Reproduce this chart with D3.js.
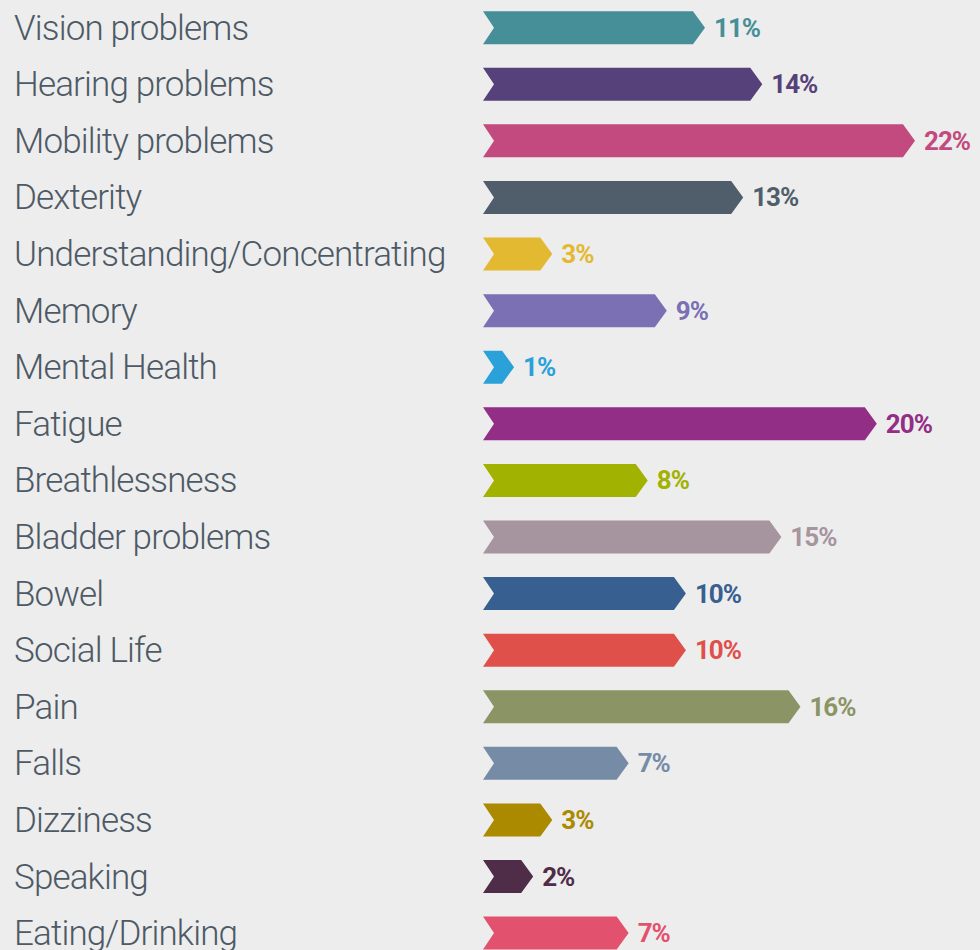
<!DOCTYPE html>
<html>
<head>
<title>Symptoms</title>
<style>
  body { margin: 0; background: #ededed; }
  .cat { font-family: Roboto, sans-serif; font-weight: 300; font-size: 35px; fill: #4d5a66; letter-spacing: -0.85px; }
  .val { font-family: Roboto, sans-serif; font-weight: 700; font-size: 26px; letter-spacing: -1px; }
</style>
</head>
<body>
<script src="https://cdnjs.cloudflare.com/ajax/libs/d3/7.8.5/d3.min.js"></script>
<script>
var categories = ["Vision problems", "Hearing problems", "Mobility problems", "Dexterity",
  "Understanding/Concentrating", "Memory", "Mental Health", "Fatigue", "Breathlessness",
  "Bladder problems", "Bowel", "Social Life", "Pain", "Falls", "Dizziness", "Speaking",
  "Eating/Drinking"];
var values = [11, 14, 22, 13, 3, 9, 1, 20, 8, 15, 10, 10, 16, 7, 3, 2, 7];
var colors = ["#468f99", "#56417a", "#c34a7e", "#505e6b", "#e3b931", "#7a70b3", "#2ba1d9",
  "#932e86", "#a2b200", "#a6949f", "#376091", "#e0504b", "#8b9465", "#768ca6", "#ab8a00",
  "#4f2c47", "#e2516e"];

var width = 980,
    height = 950,
    barH = 33,
    notch = 11,
    tip = 12;

var rows = categories.map(function(c, i) { return { cat: c, value: values[i], color: colors[i] }; });

var x = d3.scaleLinear().domain([0, 22]).range([483, 903]);
var y = d3.scaleBand().domain(categories).range([-0.6, 961.4]).padding(0);

var svg = d3.select("body").append("svg")
  .attr("width", width)
  .attr("height", height);

var g = svg.selectAll(".row")
  .data(rows)
  .enter().append("g")
  .attr("class", "row")
  .attr("transform", function(d) { return "translate(0," + (y(d.cat) + y.bandwidth() / 2) + ")"; });

// chevron-shaped bar: notch on the left, point on the right
g.append("path")
  .attr("d", function(d) {
    var x0 = x(0), x1 = x(d.value), h = barH / 2;
    return "M" + x0 + "," + (-h) + "L" + x1 + "," + (-h) + "L" + (x1 + tip) + ",0L" + x1 + "," + h +
      "L" + x0 + "," + h + "L" + (x0 + notch) + ",0Z";
  })
  .style("fill", function(d) { return d.color; });

g.append("text")
  .attr("class", "cat")
  .attr("x", 14)
  .attr("y", 12)
  .text(function(d) { return d.cat; });

g.append("text")
  .attr("class", "val")
  .attr("x", function(d) { return x(d.value) + tip + 9; })
  .attr("y", 9)
  .style("fill", function(d) { return d.color; })
  .text(function(d) { return d.value + "%"; });
</script>
</body>
</html>
